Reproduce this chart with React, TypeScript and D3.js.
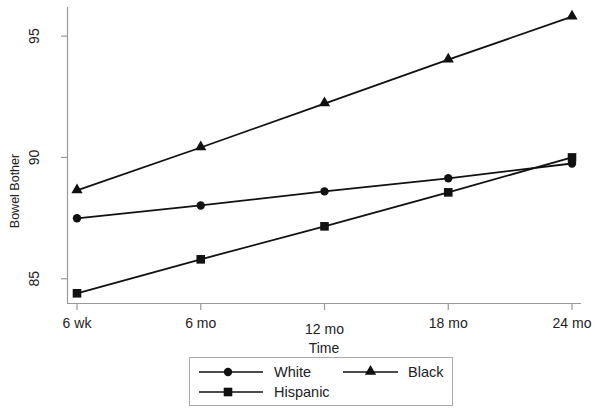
import React from "react";
import * as d3 from "d3";

const timeLabels = ["6 wk", "6 mo", "12 mo", "18 mo", "24 mo"];
const whiteValues = [87.49, 88.02, 88.6, 89.14, 89.75];
const blackValues = [88.64, 90.41, 92.22, 94.03, 95.8];
const hispanicValues = [84.4, 85.8, 87.16, 88.56, 90.0];
const yTicks = [85, 90, 95];

const series = [
  { name: "White", values: whiteValues, marker: "circle" },
  { name: "Black", values: blackValues, marker: "triangle" },
  { name: "Hispanic", values: hispanicValues, marker: "square" },
];

const W = 601;
const H = 415;
const FONT = "'Liberation Sans', Arial, sans-serif";
const INK = "#111";
const AXIS = "#999";

function Marker({ type, x, y }: { type: string; x: number; y: number }) {
  if (type === "circle") return <circle cx={x} cy={y} r={4.2} fill={INK} />;
  if (type === "square") return <rect x={x - 4.3} y={y - 4.3} width={8.6} height={8.6} fill={INK} />;
  const sym = d3.symbol().type(d3.symbolTriangle).size(55)();
  return <path d={sym || ""} transform={`translate(${x},${y - 0.5})`} fill={INK} />;
}

export default function App() {
  const x = d3.scalePoint<string>().domain(timeLabels).range([77, 572]);
  const y = d3.scaleLinear().domain([84, 96.2]).range([303, 7]);
  const line = d3
    .line<number>()
    .x((_, i) => x(timeLabels[i]) as number)
    .y((v) => y(v));

  const legendItems = [
    { s: series[0], lx: 199, ly: 372, tx: 274 },
    { s: series[1], lx: 343, ly: 372, tx: 408 },
    { s: series[2], lx: 199, ly: 392, tx: 274 },
  ];

  return (
    <svg width={W} height={H} style={{ position: "absolute", left: 0, top: 0, background: "#fff" }} fontFamily={FONT}>
      <rect x={0} y={0} width={W} height={H} fill="#fff" />
      {/* Y axis */}
      <line x1={67.5} x2={67.5} y1={7} y2={303.5} stroke={AXIS} strokeWidth={1.2} />
      {yTicks.map((t) => (
        <g key={t}>
          <line x1={61} x2={67.5} y1={y(t)} y2={y(t)} stroke={AXIS} strokeWidth={1.2} />
          <text
            transform={`translate(${39},${y(t)}) rotate(-90)`}
            textAnchor="middle"
            fontSize={14}
            fill="#222"
          >
            {t}
          </text>
        </g>
      ))}
      <text transform={`translate(19,191) rotate(-90)`} textAnchor="middle" fontSize={12.5} fill="#222">
        Bowel Bother
      </text>
      {/* X axis */}
      <line x1={67} x2={581} y1={303.5} y2={303.5} stroke={AXIS} strokeWidth={1.2} />
      {timeLabels.map((t, i) => (
        <g key={t}>
          <line x1={x(t)} x2={x(t)} y1={303.5} y2={310} stroke={AXIS} strokeWidth={1.2} />
          <text x={x(t)} y={i === 2 ? 334 : 328} textAnchor="middle" fontSize={14} fill="#222">
            {t}
          </text>
        </g>
      ))}
      <text x={324} y={353} textAnchor="middle" fontSize={14} fill="#222">
        Time
      </text>
      {/* Series */}
      {series.map((s) => (
        <g key={s.name}>
          <path d={line(s.values) || ""} fill="none" stroke={INK} strokeWidth={1.8} />
          {s.values.map((v, i) => (
            <Marker key={i} type={s.marker} x={x(timeLabels[i]) as number} y={y(v)} />
          ))}
        </g>
      ))}
      {/* Legend */}
      <rect x={189.5} y={357.5} width={263} height={48} fill="#fff" stroke="#aaa" strokeWidth={1} />
      {legendItems.map(({ s, lx, ly, tx }) => {
        const len = s.name === "Black" ? 55 : 64;
        return (
          <g key={s.name}>
            <line x1={lx} x2={lx + len} y1={ly} y2={ly} stroke={INK} strokeWidth={1.5} />
            <Marker type={s.marker} x={lx + len / 2 + (s.name === "Black" ? 0 : -3)} y={ly} />
            <text x={tx} y={ly + 5} fontSize={14.5} fill="#222">
              {s.name}
            </text>
          </g>
        );
      })}
    </svg>
  );
}
